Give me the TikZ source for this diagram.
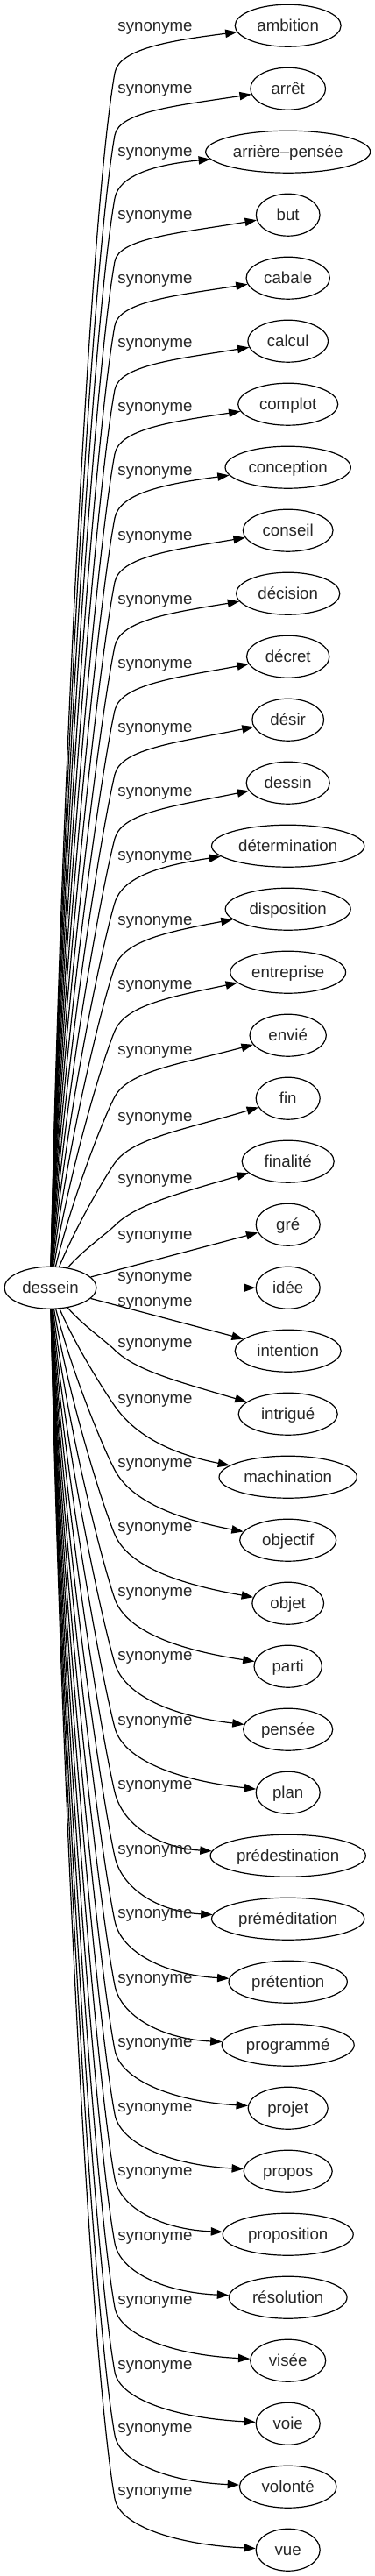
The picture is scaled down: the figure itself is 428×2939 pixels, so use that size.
\documentclass[tikz,border=0pt]{standalone}
\usepackage{fontspec}
\setmainfont{Liberation Sans}
\usetikzlibrary{arrows.meta,shapes.geometric}
\begin{document}
\begin{tikzpicture}[x=1pt,y=-1pt,
  every node/.style={font=\fontsize{18.67pt}{22pt}\selectfont, text=black!85},
  tgt/.style={draw=black, ellipse, line width=1.2pt, minimum height=48pt, inner sep=0pt, text height=13.4pt, text depth=1.4pt},
  lbl/.style={inner sep=0pt},
  edge/.style={draw=black, line width=1.2pt, -{Triangle[length=13.3pt,width=9.3pt]}}]
\useasboundingbox (0,0) rectangle (428,2939);
\node[tgt, minimum width=105pt] (dessein) at (57.5,1469.2) {dessein};
\foreach \i/\w/\off/\txt in {0/121/3/ambition, 1/85.7/2/arrêt, 2/188/2/arrière–pensée, 3/72.7/2/but, 4/95.3/3.2/cabale, 5/91.7/4.3/calcul, 6/114/5.5/complot, 7/143.3/6.7/conception, 8/102.7/7.9/conseil, 9/118.3/9/décision, 10/94.3/10.2/décret, 11/81.7/11.4/désir, 12/95/12.5/dessin, 13/174.3/13.7/détermination, 14/143/14.9/disposition, 15/131.7/16/entreprise, 16/87.3/19/envié, 17/73/22.7/fin, 18/105/22/finalité, 19/73/14/gré, 20/73/-11/idée, 21/121/-54/intention, 22/113/-79/intrigué, 23/157.3/-87/machination, 24/110/-86/objectif, 25/81.7/-84.5/objet, 26/77.3/-83/parti, 27/102/-81.5/pensée, 28/73/-80/plan, 29/177.3/-78.5/prédestination, 30/174.3/-77/préméditation, 31/135.3/-75.5/prétention, 32/151/-74/programmé, 33/91/-72.5/projet, 34/101/-71/propos, 35/149/-69.5/proposition, 36/134.7/-68/résolution, 37/86/-66.5/visée, 38/73/-65/voie, 39/110.7/-65/volonté, 40/73/-64.5/vue}{
  \pgfmathsetmacro\yt{29.2+72*\i}
  \pgfmathsetmacro\ly{\yt+\off}
  \pgfmathsetmacro\rx{\w/2}
  \node[tgt, minimum width=\w pt] (t\i) at (328.7,\yt) {\txt};
  \node[lbl] (l\i) at (177,\ly) {synonyme};
  \ifnum\i<19
    \pgfmathsetmacro\k{20-\i}
    \pgfmathsetmacro\s{exp(-(\k-2)/3)}
    \pgfmathsetmacro\th{80-35*\s}
    \pgfmathsetmacro\By{\ly+51}
    \pgfmathsetmacro\cAx{69.5+25*\s}
    \pgfmathsetmacro\cAy{1445.2-0.4*(1445.2-\By)}
    \pgfmathsetmacro\dB{0.11*(1445.2-\By)+8}
    \pgfmathsetmacro\cBx{131-\dB*cos(\th)}
    \pgfmathsetmacro\cBy{\By+\dB*sin(\th)}
    \pgfmathsetmacro\eo{2+10*exp(-(\k-2)/8)}
    \pgfmathsetmacro\Ey{\yt+\eo}
    \pgfmathsetmacro\Ex{328.7-\rx*sqrt(1-(\eo/24)^2)}
    \pgfmathsetmacro\dC{0.55*(\By-\Ey)}
    \pgfmathsetmacro\cCx{131+\dC*cos(\th)}
    \pgfmathsetmacro\cCy{\By-\dC*sin(\th)}
    \pgfmathsetmacro\ph{10+7*exp(-(\k-2)/8)}
    \pgfmathsetmacro\dD{0.55*(\Ex-131)}
    \pgfmathsetmacro\cDx{\Ex-\dD*cos(\ph)}
    \pgfmathsetmacro\cDy{\Ey+\dD*sin(\ph)}
    \draw[edge] (dessein) .. controls (\cAx,\cAy) and (\cBx,\cBy) .. (131,\By) .. controls (\cCx,\cCy) and (\cDx,\cDy) .. (t\i);
  \else
    \ifnum\i<22
      \draw[edge] (dessein) -- (t\i);
    \else
      \pgfmathsetmacro\k{\i-20}
      \pgfmathsetmacro\s{exp(-(\k-2)/3)}
      \pgfmathsetmacro\th{80-35*\s}
      \pgfmathsetmacro\By{\ly+6}
      \pgfmathsetmacro\cAx{69.5+25*\s}
      \pgfmathsetmacro\cAy{1493.2+0.4*(\By-1493.2)}
      \pgfmathsetmacro\dB{0.11*(\By-1493.2)+8}
      \pgfmathsetmacro\cBx{131-\dB*cos(\th)}
      \pgfmathsetmacro\cBy{\By-\dB*sin(\th)}
      \pgfmathsetmacro\eo{-1+15*exp(-(\k-2)/5)}
      \pgfmathsetmacro\Ey{\yt-\eo}
      \pgfmathsetmacro\Ex{328.7-\rx*sqrt(1-(\eo/24)^2)}
      \pgfmathsetmacro\dC{0.55*(\Ey-\By)}
      \pgfmathsetmacro\cCx{131+\dC*cos(\th)}
      \pgfmathsetmacro\cCy{\By+\dC*sin(\th)}
      \pgfmathsetmacro\ph{4+12*exp(-(\k-2)/4)}
      \pgfmathsetmacro\dD{0.55*(\Ex-131)}
      \pgfmathsetmacro\cDx{\Ex-\dD*cos(\ph)}
      \pgfmathsetmacro\cDy{\Ey-\dD*sin(\ph)}
      \draw[edge] (dessein) .. controls (\cAx,\cAy) and (\cBx,\cBy) .. (131,\By) .. controls (\cCx,\cCy) and (\cDx,\cDy) .. (t\i);
    \fi
  \fi
}
\end{tikzpicture}
\end{document}
